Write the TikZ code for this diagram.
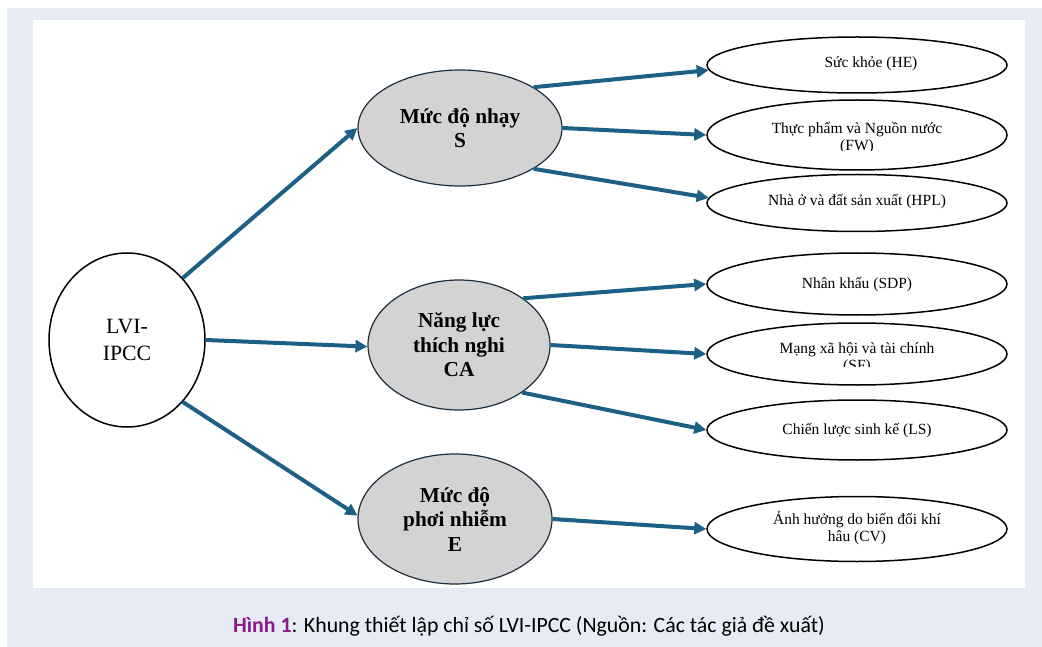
\documentclass[tikz,border=0pt]{standalone}
\usepackage{fontspec}
\setmainfont{Liberation Serif}
\newfontfamily\capfont{Carlito}
\usetikzlibrary{arrows.meta,shapes.geometric}
\definecolor{panel}{RGB}{230,235,245}
\definecolor{arrowc}{RGB}{28,96,133}
\definecolor{nodegray}{RGB}{211,211,211}
\definecolor{nodeedge}{RGB}{28,45,62}
\definecolor{cappurple}{RGB}{139,26,137}
\tikzset{
  conn/.style={draw=arrowc, line width=4pt, -{Triangle[length=12pt,width=12pt]}},
  mainnode/.style={ellipse, draw=nodeedge, line width=1.2pt, fill=nodegray, inner sep=0pt, align=center, font=\fontsize{21.3}{24.5}\selectfont\bfseries},
  leafnode/.style={ellipse, draw=black, line width=1.5pt, fill=white, inner sep=0pt, minimum width=300pt, align=center},
  rootnode/.style={ellipse, draw=black, line width=1.5pt, fill=white, inner sep=0pt, align=center, font=\fontsize{21.8}{27}\selectfont},
  leaftext/.style={font=\fontsize{15.5}{17}\selectfont, align=center, inner sep=0pt},
  captext/.style={font=\capfont\fontsize{21.8}{24}\selectfont, inner sep=0pt}
}
\begin{document}
\begin{tikzpicture}[x=1pt,y=-1pt]
\useasboundingbox (0,0) rectangle (1042,647);
\fill[white] (0,0) rectangle (1042,647);
\fill[panel] (7,8) rectangle (1042,647);
\fill[white] (33,20) rectangle (1025,588);

% root
\node[rootnode, minimum width=156pt, minimum height=174pt] (lvi) at (127,340) {LVI-\\IPCC};

% main nodes
\node[mainnode, minimum width=204pt, minimum height=116pt] (s) at (460,128) {Mức độ nhạy\\S};
\node[mainnode, minimum width=182pt, minimum height=130pt] (ca) at (459,345) {Năng lực\\thích nghi\\CA};
\node[mainnode, minimum width=194pt, minimum height=130pt] (e) at (455,519) {Mức độ\\phơi nhiễm\\E};

% leaves
\node[leafnode, minimum height=56pt] (he) at (857,65) {};
\node[leaftext] (hetext) at (871,64) {Sức khỏe (HE)};
\node[leafnode, minimum height=70pt] (fw) at (857,135) {};
\begin{scope}
\clip (710,100) rectangle (1005,151);
\node[leaftext] (fwtext) at (857,138.5) {Thực phẩm và Nguồn nước\\(FW)};
\end{scope}
\node[leafnode, minimum height=57pt] (hpl) at (857,203) {};
\node[leaftext] (hpltext) at (857,202) {Nhà ở và đất sản xuất (HPL)};

\node[leafnode, minimum height=62pt] (sdp) at (857,284) {};
\node[leaftext] (sdptext) at (857,285) {Nhân khẩu (SDP)};
\node[leafnode, minimum height=62pt] (sf) at (857,354) {};
\begin{scope}
\clip (710,323) rectangle (1005,366);
\node[leaftext] (sftext) at (857,358.5) {Mạng xã hội và tài chính\\(SF)};
\end{scope}
\node[leafnode, minimum height=60pt] (ls) at (857,430) {};
\node[leaftext] (lstext) at (857,431) {Chiến lược sinh kế (LS)};
\node[leafnode, minimum height=65pt] (cv) at (857,529) {};
\node[leaftext] (cvtext) at (857,528.5) {Ảnh hưởng do biến đổi khí\\hâu (CV)};

% connectors
\draw[conn] (lvi.48) -- (s.180);
\draw[conn] (lvi.0) -- (ca.181);
\draw[conn] (lvi.-48) -- (e.178);
\draw[conn] (s.29) -- (he.182);
\draw[conn] (s.0) -- (fw.180);
\draw[conn] (s.-29) -- (hpl.178);
\draw[conn] (ca.36) -- (sdp.180);
\draw[conn] (ca.0) -- (sf.180);
\draw[conn] (ca.-37) -- (ls.180);
\draw[conn] (e.0) -- (cv.180);

% caption
\node[captext] (cap) at (529,626) {\textcolor{cappurple}{\bfseries Hình 1}: Khung thiết lập chỉ số LVI-IPCC (Nguồn: Các tác giả đề xuất)};
\end{tikzpicture}
\end{document}
